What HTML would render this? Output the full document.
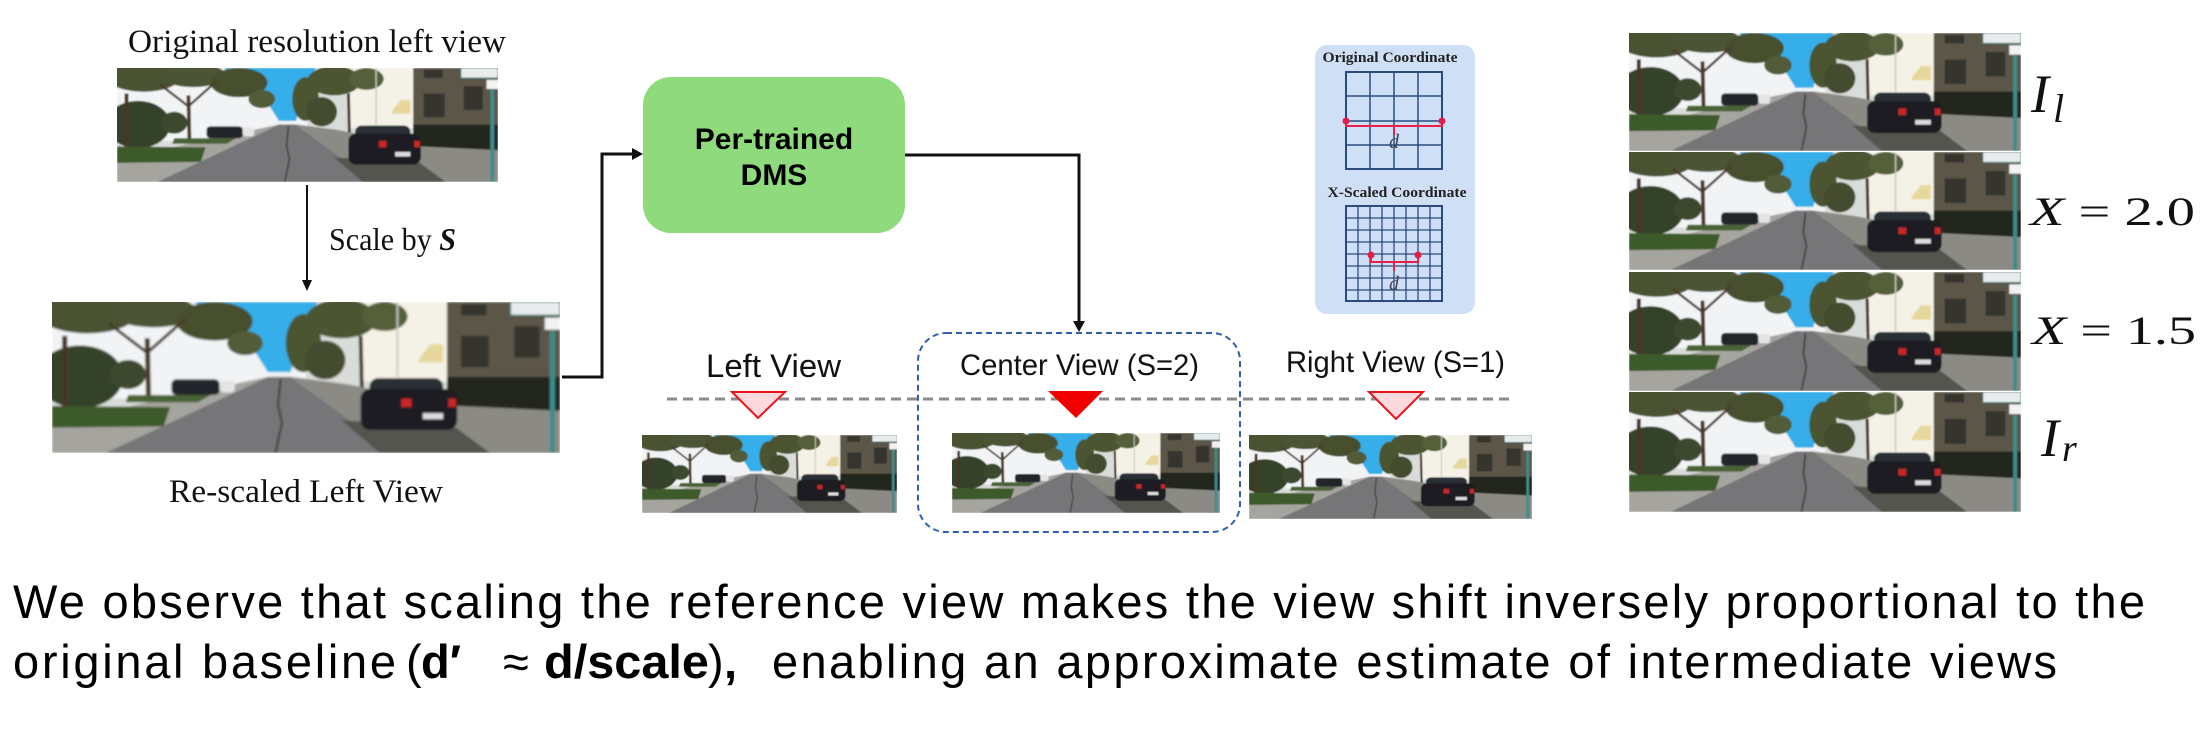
<!DOCTYPE html>
<html><head><meta charset="utf-8"><style>
html,body{margin:0;padding:0;background:#fff;}
svg{display:block;}
</style></head><body>
<svg width="2204" height="734" viewBox="0 0 2204 734" xmlns="http://www.w3.org/2000/svg">
<defs>
<filter id="bl" x="-2%" y="-2%" width="104%" height="104%"><feGaussianBlur stdDeviation="0.8"/></filter>
<symbol id="scene" viewBox="0 0 400 125" preserveAspectRatio="none">
<g filter="url(#bl)">
<rect width="400" height="125" fill="#d9dcd8"/>
<rect x="0" y="0" width="200" height="80" fill="#f1f3f5"/>
<polygon points="112,0 209,0 197,25 188,58 170,58 150,25" fill="#35aee9"/>
<rect x="244" y="0" width="68" height="66" fill="#f4f1e6"/>
<polygon points="290,45 298,35 308,35 308,50 288,50" fill="#e6d89c"/>
<rect x="311" y="0" width="89" height="70" fill="#5b574a"/>
<rect x="311" y="62" width="89" height="30" fill="#24251f"/>
<rect x="322" y="28" width="22" height="26" fill="#35342d"/>
<rect x="364" y="20" width="20" height="26" fill="#35342d"/>
<rect x="322" y="2" width="20" height="9" fill="#35342d"/>
<ellipse cx="28" cy="10" rx="38" ry="16" fill="#4a5231"/>
<ellipse cx="80" cy="8" rx="34" ry="13" fill="#4c5534"/>
<ellipse cx="128" cy="16" rx="30" ry="16" fill="#47502f"/>
<ellipse cx="152" cy="34" rx="14" ry="10" fill="#525c38"/>
<ellipse cx="22" cy="62" rx="34" ry="26" fill="#34432a"/>
<ellipse cx="60" cy="60" rx="14" ry="12" fill="#3c4a2e"/>
<line x1="10" y1="28" x2="10" y2="89" stroke="#4a3626" stroke-width="4"/>
<line x1="75" y1="30" x2="76" y2="78" stroke="#4a3a2a" stroke-width="4"/>
<line x1="75" y1="42" x2="45" y2="18" stroke="#4a3a2a" stroke-width="2.5"/>
<line x1="75" y1="42" x2="105" y2="14" stroke="#4a3a2a" stroke-width="2.5"/>
<ellipse cx="198" cy="34" rx="14" ry="24" fill="#4c5532"/>
<ellipse cx="228" cy="14" rx="28" ry="16" fill="#4c5532"/>
<ellipse cx="262" cy="12" rx="18" ry="12" fill="#55603a"/>
<ellipse cx="215" cy="48" rx="16" ry="16" fill="#444c2e"/>
<line x1="243" y1="28" x2="244" y2="72" stroke="#3a2d20" stroke-width="3"/>
<line x1="272" y1="0" x2="272" y2="62" stroke="#c8c8c0" stroke-width="1.5"/>
<polygon points="0,100 0,125 42,125 170,62 125,72" fill="#a6a49e"/>
<polygon points="0,86 93,87 88,103 0,104" fill="#3d5a2b"/>
<polygon points="60,77 125,77 115,83 58,83" fill="#4a6234"/>
<polygon points="42,125 270,125 188,62 170,62" fill="#767678"/>
<polygon points="188,62 270,125 400,125 400,90 318,86 232,68" fill="#8c8a84"/>
<polyline points="180,64 178,85 181,100 176,125" fill="none" stroke="#3a3a3c" stroke-width="1.6"/>
<polygon points="228,98 318,104 345,125 258,125" fill="#55544f"/>
<rect x="94" y="64" width="38" height="13" rx="4" fill="#24272c"/>
<rect x="132" y="65" width="12" height="10" rx="3" fill="#e4e4e4"/>
<rect x="250" y="63" width="58" height="16" rx="7" fill="#2c2f35"/>
<rect x="243" y="72" width="76" height="34" rx="8" fill="#1b1d22"/>
<rect x="275" y="80" width="8" height="7" fill="#c8282a"/>
<rect x="312" y="80" width="6" height="7" fill="#c8282a"/>
<rect x="292" y="92" width="16" height="5" fill="#dcdcdc"/>
<rect x="361" y="0" width="39" height="11" fill="#e8ecec" stroke="#3a7b7b" stroke-width="1"/>
<rect x="388" y="13" width="12" height="10" fill="#f2f2f2"/>
<rect x="392" y="24" width="4" height="101" fill="#3d8c8c"/>
</g>
</symbol>
</defs>

<rect width="2204" height="734" fill="#ffffff"/>

<!-- Left column -->
<text x="128" y="52" font-family="Liberation Serif, serif" font-size="33" textLength="378" lengthAdjust="spacingAndGlyphs" fill="#111">Original resolution left view</text>
<use href="#scene" x="117" y="68" width="381" height="114"/>
<line x1="307" y1="185" x2="307" y2="281" stroke="#111" stroke-width="2"/>
<polygon points="302,280 312,280 307,291" fill="#111"/>
<text x="329" y="250" font-family="Liberation Serif, serif" font-size="32" textLength="127" lengthAdjust="spacingAndGlyphs" fill="#111">Scale by <tspan font-weight="bold" font-style="italic">S</tspan></text>
<use href="#scene" x="52" y="302" width="508" height="151"/>
<text x="169" y="502" font-family="Liberation Serif, serif" font-size="33" textLength="274" lengthAdjust="spacingAndGlyphs" fill="#111">Re-scaled Left View</text>

<!-- connector to DMS -->
<polyline points="562,377 602,377 602,154 633,154" fill="none" stroke="#111" stroke-width="3"/>
<polygon points="632,148 632,160 643,154" fill="#111"/>

<!-- DMS box -->
<rect x="643" y="77" width="262" height="156" rx="28" fill="#8fda7c"/>
<text x="774" y="149" text-anchor="middle" font-family="Liberation Sans, sans-serif" font-weight="bold" font-size="30" fill="#000">Per-trained</text>
<text x="774" y="185" text-anchor="middle" font-family="Liberation Sans, sans-serif" font-weight="bold" font-size="30" fill="#000">DMS</text>

<!-- DMS output -->
<polyline points="905,155 1079,155 1079,322" fill="none" stroke="#111" stroke-width="3"/>
<polygon points="1073,321 1085,321 1079,332" fill="#111"/>

<!-- center dashed box -->
<rect x="918" y="333" width="322" height="199" rx="28" fill="none" stroke="#2f5fb0" stroke-width="2" stroke-dasharray="6,4"/>

<!-- view labels -->
<text x="706" y="377" font-family="Liberation Sans, sans-serif" font-size="32" textLength="135" lengthAdjust="spacingAndGlyphs" fill="#111">Left View</text>
<text x="960" y="375" font-family="Liberation Sans, sans-serif" font-size="30" textLength="239" lengthAdjust="spacingAndGlyphs" fill="#111">Center View (S=2)</text>
<text x="1286" y="372" font-family="Liberation Sans, sans-serif" font-size="30" textLength="219" lengthAdjust="spacingAndGlyphs" fill="#111">Right View (S=1)</text>

<!-- dashed baseline -->
<line x1="667" y1="399" x2="1513" y2="399" stroke="#8a8a8a" stroke-width="3" stroke-dasharray="10,6"/>
<polygon points="732,392 785,392 758,418" fill="#fcd9dd" stroke="#e8141c" stroke-width="2"/>
<polygon points="1048,391 1103,391 1076,418" fill="#f00000"/>
<polygon points="1369,392 1423,392 1396,419" fill="#fcd9dd" stroke="#e8141c" stroke-width="2"/>

<!-- thumbnails -->
<use href="#scene" x="642" y="435" width="255" height="78"/>
<use href="#scene" x="952" y="433" width="268" height="80"/>
<use href="#scene" x="1249" y="435" width="283" height="84"/>

<!-- coordinate panel -->
<rect x="1315" y="45" width="160" height="269" rx="12" fill="#cfdff5"/>
<text x="1390" y="62" text-anchor="middle" font-family="Liberation Serif, serif" font-weight="bold" font-size="15" textLength="135" lengthAdjust="spacingAndGlyphs" fill="#222">Original Coordinate</text>
<g stroke="#2a4a80" stroke-width="1.5" fill="none">
<rect x="1346" y="72" width="96" height="97" stroke-width="2"/>
<line x1="1370" y1="72" x2="1370" y2="169"/><line x1="1394" y1="72" x2="1394" y2="169"/><line x1="1418" y1="72" x2="1418" y2="169"/>
<line x1="1346" y1="96" x2="1442" y2="96"/><line x1="1346" y1="121" x2="1442" y2="121"/><line x1="1346" y1="145" x2="1442" y2="145"/>
</g>
<g stroke="#e8204a" stroke-width="2" fill="none">
<polyline points="1346,121 1346,126 1442,126 1442,121"/>
<line x1="1394" y1="126" x2="1394" y2="135"/>
</g>
<circle cx="1346" cy="121" r="3.5" fill="#e0204a"/><circle cx="1442" cy="121" r="3.5" fill="#e0204a"/>
<text x="1394" y="148" text-anchor="middle" font-family="Liberation Serif, serif" font-style="italic" font-size="20" fill="#445">d</text>

<text x="1397" y="197" text-anchor="middle" font-family="Liberation Serif, serif" font-weight="bold" font-size="15" textLength="139" lengthAdjust="spacingAndGlyphs" fill="#222">X-Scaled Coordinate</text>
<g stroke="#2a4a80" stroke-width="1.3" fill="none">
<rect x="1346" y="206" width="96" height="95" stroke-width="2"/>
<line x1="1358" y1="206" x2="1358" y2="301"/><line x1="1370" y1="206" x2="1370" y2="301"/><line x1="1382" y1="206" x2="1382" y2="301"/><line x1="1394" y1="206" x2="1394" y2="301"/><line x1="1406" y1="206" x2="1406" y2="301"/><line x1="1418" y1="206" x2="1418" y2="301"/><line x1="1430" y1="206" x2="1430" y2="301"/>
<line x1="1346" y1="218" x2="1442" y2="218"/><line x1="1346" y1="230" x2="1442" y2="230"/><line x1="1346" y1="242" x2="1442" y2="242"/><line x1="1346" y1="254" x2="1442" y2="254"/><line x1="1346" y1="266" x2="1442" y2="266"/><line x1="1346" y1="278" x2="1442" y2="278"/><line x1="1346" y1="290" x2="1442" y2="290"/>
</g>
<g stroke="#e8204a" stroke-width="2" fill="none">
<polyline points="1371,255 1371,262 1418,262 1418,255"/>
<line x1="1394" y1="262" x2="1394" y2="271"/>
</g>
<circle cx="1371" cy="255" r="3.5" fill="#e0204a"/><circle cx="1418" cy="255" r="3.5" fill="#e0204a"/>
<text x="1394" y="290" text-anchor="middle" font-family="Liberation Serif, serif" font-style="italic" font-size="20" fill="#445">d</text>

<!-- right stack -->
<use href="#scene" x="1629" y="33" width="392" height="118"/>
<use href="#scene" x="1629" y="152" width="392" height="118"/>
<use href="#scene" x="1629" y="272" width="392" height="119"/>
<use href="#scene" x="1629" y="392" width="392" height="120"/>

<text x="2031" y="112" font-family="Liberation Serif, serif" font-style="italic" font-size="54" fill="#111">I</text>
<text x="2053" y="122" font-family="Liberation Serif, serif" font-style="italic" font-size="40" fill="#111">l</text>
<text x="2030" y="225" font-family="Liberation Serif, serif" font-size="40" textLength="165" lengthAdjust="spacingAndGlyphs" fill="#111"><tspan font-style="italic">X</tspan> = 2.0</text>
<text x="2032" y="344" font-family="Liberation Serif, serif" font-size="40" textLength="164" lengthAdjust="spacingAndGlyphs" fill="#111"><tspan font-style="italic">X</tspan> = 1.5</text>
<text x="2041" y="456" font-family="Liberation Serif, serif" font-style="italic" font-size="54" fill="#111">I</text>
<text x="2062" y="461" font-family="Liberation Serif, serif" font-style="italic" font-size="38" fill="#111">r</text>

<!-- bottom caption -->
<text x="13" y="618" font-family="Liberation Sans, 'Noto Sans CJK JP', sans-serif" font-size="47" textLength="2132" lengthAdjust="spacing" fill="#000">We observe that scaling the reference view makes the view shift inversely proportional to the</text>
<text x="13" y="678" font-family="Liberation Sans, 'Noto Sans CJK JP', sans-serif" font-size="47" textLength="383" lengthAdjust="spacing" fill="#000">original baseline</text>
<text x="406" y="678" font-family="Liberation Sans, 'Noto Sans CJK JP', sans-serif" font-size="47" fill="#000">(</text>
<text x="421" y="678" font-family="Liberation Sans, 'Noto Sans CJK JP', sans-serif" font-size="47" font-weight="bold" fill="#000">d′</text>
<text x="503" y="678" font-family="Liberation Sans, 'Noto Sans CJK JP', sans-serif" font-size="47" fill="#000">≈</text>
<text x="544" y="678" font-family="Liberation Sans, 'Noto Sans CJK JP', sans-serif" font-size="47" font-weight="bold" textLength="165" lengthAdjust="spacingAndGlyphs" fill="#000">d/scale</text>
<text x="708" y="678" font-family="Liberation Sans, 'Noto Sans CJK JP', sans-serif" font-size="47" fill="#000">)</text>
<text x="724" y="678" font-family="Liberation Sans, 'Noto Sans CJK JP', sans-serif" font-size="47" font-weight="bold" fill="#000">,</text>
<text x="772" y="678" font-family="Liberation Sans, 'Noto Sans CJK JP', sans-serif" font-size="47" textLength="1285" lengthAdjust="spacing" fill="#000">enabling an approximate estimate of intermediate views</text>
</svg>
</body></html>
